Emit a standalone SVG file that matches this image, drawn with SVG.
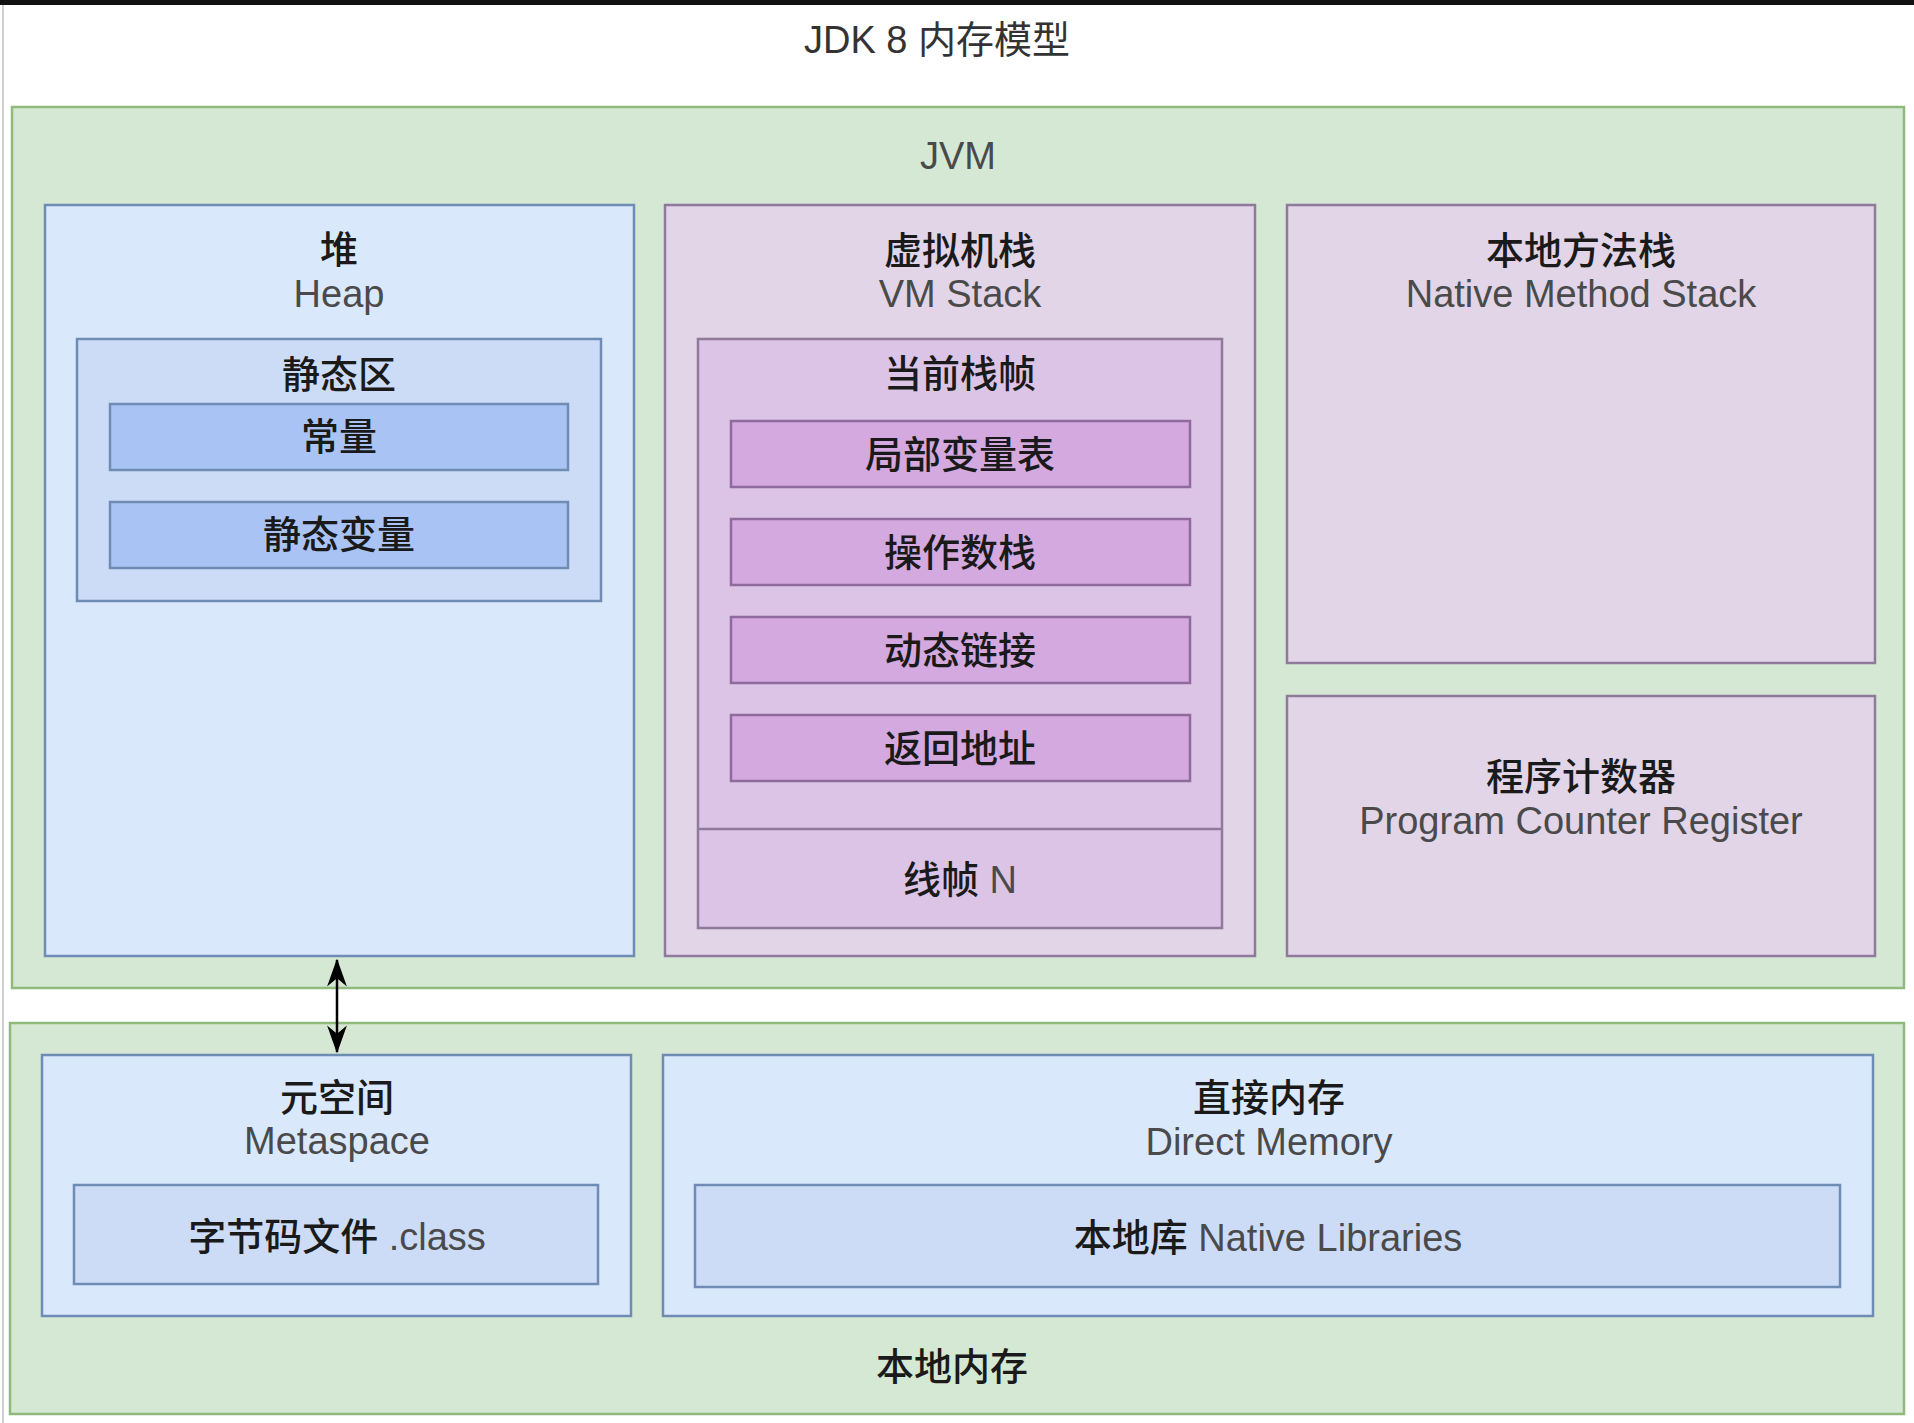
<svg xmlns="http://www.w3.org/2000/svg" width="1914" height="1423" viewBox="0 0 1914 1423">
<defs>
<style>
.cn{font-family:"Liberation Sans","Noto Sans CJK SC",sans-serif;font-size:38px;font-weight:500;fill:#1a1a1a;text-anchor:middle;dominant-baseline:central}
.en{font-family:"Liberation Sans","Noto Sans CJK SC",sans-serif;font-size:38px;font-weight:normal;fill:#4a4a4a;text-anchor:middle;dominant-baseline:central}
.green{fill:#d5e8d4;stroke:#8fba7c;stroke-width:2.5}
.blue{fill:#dae8fc;stroke:#6f8cb5;stroke-width:2.5}
.blue2{fill:#cddcf6;stroke:#6f8cb5;stroke-width:2.5}
.blue3{fill:#a9c4f4;stroke:#6f8cb5;stroke-width:2.5}
.pur{fill:#e1d5e7;stroke:#8f7a9c;stroke-width:2.5}
.pur2{fill:#dcc4e6;stroke:#8f7a9c;stroke-width:2.5}
.pur3{fill:#d4a9e0;stroke:#8f6a9c;stroke-width:2.5}
</style>
<marker id="ah" viewBox="0 0 20 20" refX="19" refY="10" markerWidth="28" markerHeight="22" markerUnits="userSpaceOnUse" orient="auto-start-reverse" preserveAspectRatio="none">
<path d="M0,1 L20,10 L0,19 L6,10 Z" fill="#000"/>
</marker>
</defs>
<rect x="0" y="0" width="1914" height="1423" fill="#ffffff"/>
<rect x="0" y="0" width="1914" height="5" fill="#111"/>
<line x1="3" y1="5" x2="3" y2="1423" stroke="#d0d0d0" stroke-width="2"/>
<g id="title"><text class="cn" x="937" y="40" style="font-weight:normal;fill:#333">JDK 8 内存模型</text></g>

<g id="jvm">
<rect class="green" x="12" y="107" width="1892" height="881"/>
<text class="en" x="958" y="156">JVM</text>
</g>

<g id="heap">
<rect class="blue" x="45" y="205" width="589" height="751"/>
<text class="cn" x="339" y="250">堆</text>
<text class="en" x="339" y="294">Heap</text>
</g>
<g id="static-area">
<rect class="blue2" x="77" y="339" width="524" height="262"/>
<text class="cn" x="339" y="375">静态区</text>
</g>
<g id="constant">
<rect class="blue3" x="110" y="404" width="458" height="66"/>
<text class="cn" x="339" y="437">常量</text>
</g>
<g id="static-var">
<rect class="blue3" x="110" y="502" width="458" height="66"/>
<text class="cn" x="339" y="535">静态变量</text>
</g>

<g id="vm-stack">
<rect class="pur" x="665" y="205" width="590" height="751"/>
<text class="cn" x="960" y="251">虚拟机栈</text>
<text class="en" x="960" y="294">VM Stack</text>
</g>
<g id="frame">
<rect class="pur2" x="698" y="339" width="524" height="589"/>
<line x1="698" y1="829" x2="1222" y2="829" stroke="#8f7a9c" stroke-width="2.5"/>
<text class="cn" x="960" y="374">当前栈帧</text>
<text class="cn" x="960" y="880"><tspan>线帧 </tspan><tspan class="en" style="dominant-baseline:central">N</tspan></text>
</g>
<g id="locals">
<rect class="pur3" x="731" y="421" width="459" height="66"/>
<text class="cn" x="960" y="455">局部变量表</text>
</g>
<g id="operand">
<rect class="pur3" x="731" y="519" width="459" height="66"/>
<text class="cn" x="960" y="553">操作数栈</text>
</g>
<g id="dynlink">
<rect class="pur3" x="731" y="617" width="459" height="66"/>
<text class="cn" x="960" y="651">动态链接</text>
</g>
<g id="retaddr">
<rect class="pur3" x="731" y="715" width="459" height="66"/>
<text class="cn" x="960" y="749">返回地址</text>
</g>

<g id="native-stack">
<rect class="pur" x="1287" y="205" width="588" height="458"/>
<text class="cn" x="1581" y="251">本地方法栈</text>
<text class="en" x="1581" y="294">Native Method Stack</text>
</g>
<g id="pc">
<rect class="pur" x="1287" y="696" width="588" height="260"/>
<text class="cn" x="1581" y="777">程序计数器</text>
<text class="en" x="1581" y="821">Program Counter Register</text>
</g>

<g id="native-mem">
<rect class="green" x="10" y="1023" width="1894" height="391"/>
<text class="cn" x="952" y="1367">本地内存</text>
</g>
<g id="metaspace">
<rect class="blue" x="42" y="1055" width="589" height="261"/>
<text class="cn" x="337" y="1098">元空间</text>
<text class="en" x="337" y="1141">Metaspace</text>
</g>
<g id="classfile">
<rect class="blue2" x="74" y="1185" width="524" height="99"/>
<text class="cn" x="337" y="1237"><tspan>字节码文件 </tspan><tspan class="en" style="dominant-baseline:central">.class</tspan></text>
</g>
<g id="direct">
<rect class="blue" x="663" y="1055" width="1210" height="261"/>
<text class="cn" x="1269" y="1098">直接内存</text>
<text class="en" x="1269" y="1142">Direct Memory</text>
</g>
<g id="native-libs">
<rect class="blue2" x="695" y="1185" width="1145" height="102"/>
<text class="cn" x="1268" y="1238"><tspan>本地库 </tspan><tspan class="en" style="dominant-baseline:central">Native Libraries</tspan></text>
</g>

<g id="connectors">
<line x1="337" y1="960" x2="337" y2="1052" stroke="#000" stroke-width="2.5" marker-start="url(#ah)" marker-end="url(#ah)"/>
</g>
</svg>
